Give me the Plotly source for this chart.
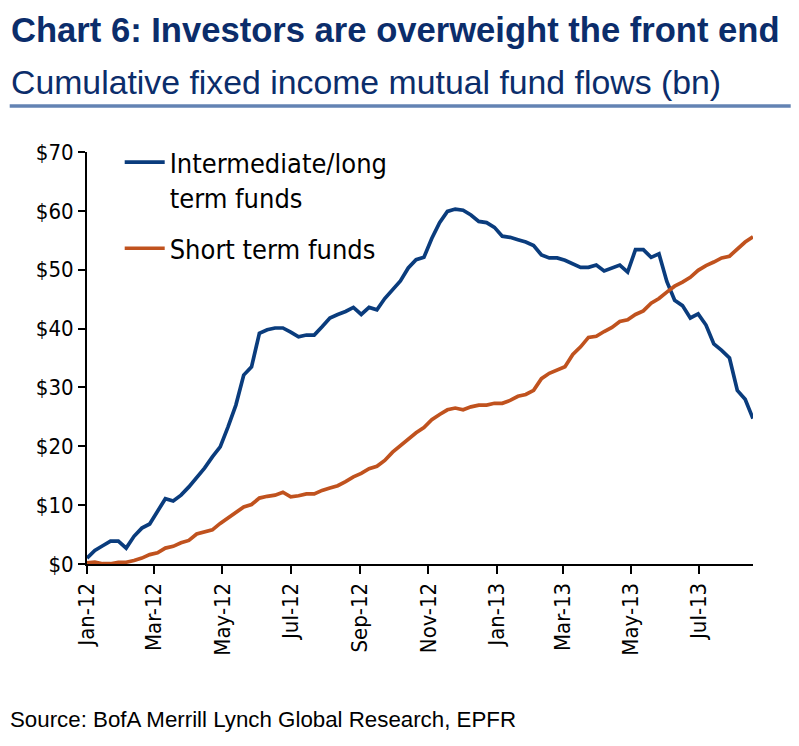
import pandas as pd
import plotly.graph_objects as go

dates = pd.date_range("2012-01-04", periods=86, freq="7D")

intermediate_long = [
    1.0, 2.3, 3.1, 3.9, 3.9, 2.7, 4.7, 6.1, 6.8, 8.9,
    11.1, 10.7, 11.7, 13.1, 14.6, 16.3, 18.2, 19.9, 23.3, 27.0,
    32.1, 33.5, 39.2, 39.8, 40.1, 40.1, 39.4, 38.6, 38.9, 38.9,
    40.3, 41.8, 42.4, 42.9, 43.6, 42.4, 43.6, 43.2, 45.1, 46.6,
    48.1, 50.3, 51.7, 52.1, 55.3, 58.0, 59.9, 60.3, 60.1, 59.3,
    58.2, 58.0, 57.2, 55.7, 55.5, 55.1, 54.7, 54.1, 52.5, 52.0,
    52.0, 51.6, 51.0, 50.4, 50.4, 50.8, 49.8, 50.3, 50.8, 49.6,
    53.4, 53.4, 52.1, 52.7, 48.0, 44.8, 43.9, 41.8, 42.5, 40.6,
    37.4, 36.3, 35.0, 29.5, 28.0, 24.7,
]

short_term = [
    0.2, 0.3, 0.05, 0.05, 0.3, 0.3, 0.6, 1.0, 1.6, 1.9,
    2.7, 3.0, 3.6, 4.0, 5.1, 5.5, 5.8, 6.9, 7.8, 8.7,
    9.7, 10.1, 11.2, 11.5, 11.7, 12.2, 11.4, 11.6, 11.9, 11.9,
    12.5, 12.9, 13.3, 14.0, 14.8, 15.4, 16.2, 16.6, 17.6, 19.0,
    20.1, 21.3, 22.3, 23.2, 24.5, 25.4, 26.2, 26.5, 26.2, 26.7,
    27.0, 27.0, 27.3, 27.3, 27.8, 28.5, 28.8, 29.5, 31.5, 32.4,
    32.9, 33.5, 35.6, 36.9, 38.5, 38.7, 39.5, 40.2, 41.2, 41.5,
    42.4, 43.0, 44.3, 45.1, 46.2, 47.2, 47.9, 48.7, 49.9, 50.7,
    51.3, 52.0, 52.3, 53.6, 54.7, 55.6,
]

tick_dates = ["2012-01-04", "2012-03-04", "2012-05-04", "2012-07-04", "2012-09-04",
              "2012-11-04", "2013-01-04", "2013-03-04", "2013-05-04", "2013-07-04"]
tick_labels = ["Jan-12", "Mar-12", "May-12", "Jul-12", "Sep-12",
               "Nov-12", "Jan-13", "Mar-13", "May-13", "Jul-13"]

y_ticks = [0, 10, 20, 30, 40, 50, 60, 70]
y_labels = ["$0", "$10", "$20", "$30", "$40", "$50", "$60", "$70"]

title_text = "Chart 6: Investors are overweight the front end"
subtitle_text = "Cumulative fixed income mutual fund flows (bn)"
source_text = "Source: BofA Merrill Lynch Global Research, EPFR"

BLUE = "#0A3C7D"
ORANGE = "#C0521E"
NAVY = "#0B2D6B"
RULE = "#6383B3"

# page has an 8px body margin: lay the figure out 8px smaller so it fits the window
OFF = 8
W, H = 799 - OFF, 746 - OFF
# plot area in page pixels: x 87.3 -> 753.3, y 152 -> 564.3
L = 87.3 - OFF
R = 799 - 753.3
T = 152 - OFF
B = 746 - 564.3
pw, ph = W - L - R, H - T - B


def px(xp):
    """page x pixel -> paper x"""
    return (xp - OFF - L) / pw


def py(yp):
    """page y pixel -> paper y"""
    return (H - B - (yp - OFF)) / ph


fig = go.Figure()
fig.add_trace(go.Scatter(
    x=dates, y=intermediate_long, mode="lines",
    name="Intermediate/long<br>term funds", legendgroup="a",
    line=dict(color=BLUE, width=3.7),
))
fig.add_trace(go.Scatter(
    x=dates, y=short_term, mode="lines",
    name="Short term funds", legendgroup="b",
    line=dict(color=ORANGE, width=3.7),
))

tick_font = dict(family="DejaVu Sans Condensed, DejaVu Sans", size=22, color="#000000")

fig.update_layout(
    width=W, height=H,
    margin=dict(l=L, r=R, t=T, b=B, autoexpand=False),
    paper_bgcolor="white", plot_bgcolor="white",
    showlegend=True,
    legend=dict(
        x=px(120), y=py(138), xanchor="left", yanchor="top",
        bgcolor="rgba(0,0,0,0)", borderwidth=0,
        font=dict(family="DejaVu Sans Condensed, DejaVu Sans", size=27, color="#000000"),
        valign="top", itemwidth=40, tracegroupgap=13,
    ),
    xaxis=dict(
        type="date",
        range=[dates[0], dates[-1]],
        tickmode="array", tickvals=tick_dates, ticktext=tick_labels,
        tickangle=-90, tickfont=tick_font,
        showgrid=False, zeroline=False,
        showline=True, linecolor="#000000", linewidth=2,
        ticks="outside", ticklen=8, tickwidth=1.5, tickcolor="#000000",
    ),
    yaxis=dict(
        range=[0, 70],
        tickmode="array", tickvals=y_ticks, ticktext=y_labels,
        tickfont=tick_font,
        showgrid=False, zeroline=False,
        showline=True, linecolor="#000000", linewidth=2,
        ticks="outside", ticklen=7, tickwidth=1.5, tickcolor="#000000",
    ),
    annotations=[
        dict(text="<b>" + title_text + "</b>", xref="paper", yref="paper",
             x=px(9), y=py(51), xanchor="left", yanchor="bottom", showarrow=False,
             font=dict(family="Liberation Sans Narrow, Arial Narrow, Liberation Sans", size=34.6, color=NAVY)),
        dict(text=subtitle_text, xref="paper", yref="paper",
             x=px(9), y=py(103), xanchor="left", yanchor="bottom", showarrow=False,
             font=dict(family="Liberation Sans Narrow, Arial Narrow, Liberation Sans", size=33.8, color=NAVY)),
        dict(text=source_text, xref="paper", yref="paper",
             x=px(8), y=py(734), xanchor="left", yanchor="bottom", showarrow=False,
             font=dict(family="Liberation Sans, Arial", size=22.3, color="#000000")),
    ],
    shapes=[
        dict(type="line", xref="paper", yref="paper",
             x0=px(10), x1=px(791), y0=py(106), y1=py(106),
             line=dict(color=RULE, width=3.5)),
    ],
)

fig.write_html("out.html")
